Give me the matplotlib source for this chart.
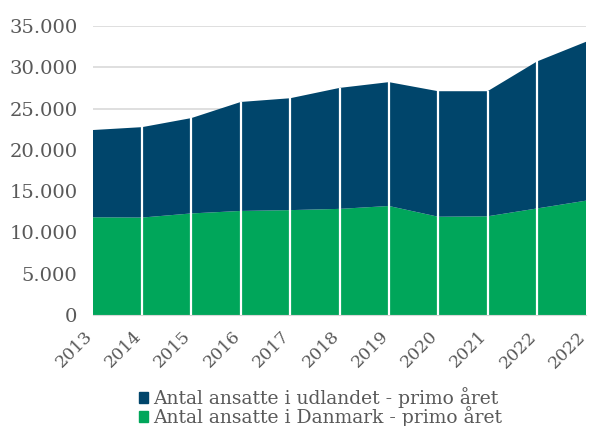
import numpy as np
import matplotlib.pyplot as plt
from matplotlib.ticker import FuncFormatter
from matplotlib.patches import Patch

# data
years = ['2013', '2014', '2015', '2016', '2017', '2018', '2019', '2020', '2021', '2022', '2022']
danmark = [11830, 11800, 12300, 12600, 12700, 12850, 13200, 11900, 11950, 12900, 13850]
total = [22400, 22750, 23850, 25800, 26250, 27500, 28200, 27100, 27100, 30700, 33100]
udland = [t - d for t, d in zip(total, danmark)]

navy = '#00456B'
green = '#00A65A'

plt.rcParams['font.family'] = ['DejaVu Serif']

fig = plt.figure(figsize=(5.91, 4.26), dpi=100)
ax = fig.add_axes([0.157, 0.2606, 0.835, 0.6784])

x = np.arange(len(years))
ax.stackplot(x, danmark, udland, colors=[green, navy], zorder=2)
# white year separators inside the area
ax.vlines(x[1:-1], 0, np.array(total)[1:-1], colors='white', linewidth=1.6, zorder=3)

ax.set_xlim(0, len(years) - 1)
ax.set_ylim(0, 35000)
ax.set_yticks(np.arange(0, 35001, 5000))
ax.yaxis.set_major_formatter(FuncFormatter(lambda v, p: '{:,.0f}'.format(v).replace(',', '.')))
ax.grid(axis='y', color='#D9D9D9', linewidth=1.2, zorder=0)
ax.set_axisbelow(True)
for s in ['top', 'right', 'left']:
    ax.spines[s].set_visible(False)
ax.spines['bottom'].set_color('#D9D9D9')
ax.tick_params(length=0, colors='#595959')
ax.tick_params(axis='y', labelsize=14, pad=11)
ax.set_xticks(x)
ax.set_xticklabels(years, rotation=45, ha='right', va='baseline', rotation_mode='anchor')
ax.tick_params(axis='x', labelsize=12.5, pad=16)

handles = [Patch(color=navy, label='Antal ansatte i udlandet - primo året'),
           Patch(color=green, label='Antal ansatte i Danmark - primo året')]
fig.legend(handles=handles, loc='lower center', bbox_to_anchor=(0.542, -0.025), ncol=1,
           frameon=False, fontsize=13.5, handlelength=0.5, handleheight=0.5,
           handletextpad=0.25, labelspacing=-0.1, borderpad=0, labelcolor='#595959')

fig.savefig('out.png', dpi=100)
